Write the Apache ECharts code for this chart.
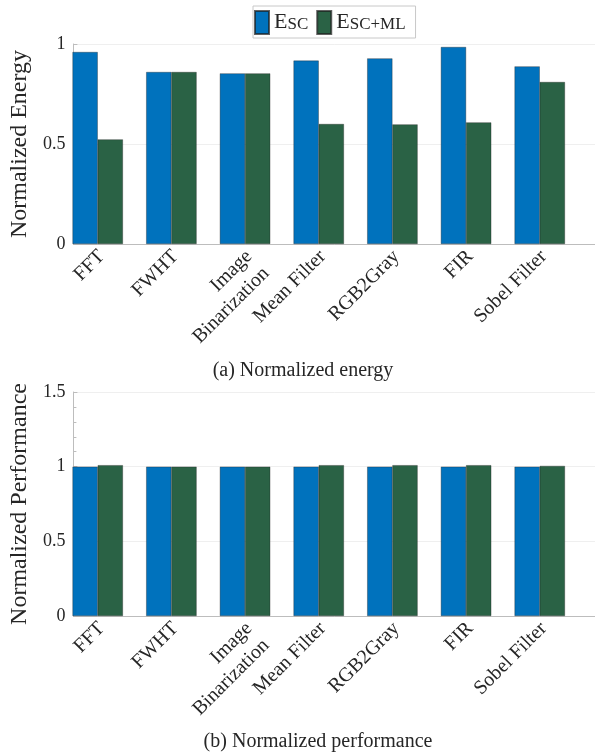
<!DOCTYPE html>
<html>
<head>
<meta charset="utf-8">
<script src="https://cdn.jsdelivr.net/npm/echarts@6/dist/echarts.min.js"></script>
<style>
  html, body { margin: 0; padding: 0; background: #fff; }
  #chart { width: 595px; height: 755px; }
</style>
</head>
<body>
<div id="chart"></div>
<script>
// Benchmarks shown on both panels
const categories = ['FFT', 'FWHT', 'Image\nBinarization', 'Mean Filter', 'RGB2Gray', 'FIR', 'Sobel Filter'];

// (a) normalized energy
const energySC   = [0.96, 0.86, 0.853, 0.917, 0.928, 0.985, 0.888];
const energySCML = [0.523, 0.86, 0.853, 0.60, 0.598, 0.608, 0.81];

// (b) normalized performance
const perfSC   = [1, 1, 1, 1, 1, 1, 1];
const perfSCML = [1.01, 1.0, 1.0, 1.01, 1.01, 1.01, 1.005];

// y-axis ticks
const energyTicks = [0, 0.5, 1];
const perfTicks = [0, 0.5, 1, 1.5];

const seriesNames = ['ESC', 'ESC+ML'];
const captions = ['(a) Normalized energy', '(b) Normalized performance'];

// ---- styling ----
const SERIF = '"Liberation Serif", "Times New Roman", serif';
const TEXT = '#262626';
const AXIS = '#bdbdbd';
const BLUE = '#0072BD';
const GREEN = '#2a6245';
const X_MIN = 0.67, X_MAX = 7.75;
const LABEL_SHIFT = -0.06;   // small nudge so rotated labels hang just under their group

const pos = i => i + 1;
const pairs = vals => vals.map((v, i) => [pos(i), v]);

function xAxisFor(gridIndex) {
  return {
    type: 'value', gridIndex, min: X_MIN, max: X_MAX,
    axisLine: { show: true, onZero: false, lineStyle: { color: AXIS, width: 1 } },
    axisTick: { show: false },
    splitLine: { show: false },
    axisLabel: {
      customValues: categories.map((_, i) => pos(i) + LABEL_SHIFT),
      formatter: v => categories[Math.round(v - LABEL_SHIFT) - 1],
      rotate: 45, align: 'right', verticalAlign: 'top', margin: 1,
      fontFamily: SERIF, fontSize: 20, lineHeight: 24, color: TEXT
    }
  };
}

function yAxisFor(gridIndex, ticks, name) {
  return {
    type: 'value', gridIndex,
    min: ticks[0], max: ticks[ticks.length - 1], interval: ticks[1] - ticks[0],
    name, nameLocation: 'middle', nameGap: 38,
    nameTextStyle: { fontFamily: SERIF, fontSize: 24, color: TEXT },
    axisLine: { show: true, lineStyle: { color: AXIS, width: 1 } },
    axisTick: { show: true, inside: true, length: 4, lineStyle: { color: AXIS } },
    minorTick: { show: true, splitNumber: 5, length: 3, lineStyle: { color: AXIS } },
    splitLine: { show: true, lineStyle: { color: '#efefef', width: 1 } },
    axisLabel: { margin: 8, fontFamily: SERIF, fontSize: 18, color: TEXT }
  };
}

function barSeries(name, color, data, gridIndex) {
  return {
    type: 'bar', name, xAxisIndex: gridIndex, yAxisIndex: gridIndex,
    data: pairs(data), barWidth: 25.2, barGap: '0%',
    itemStyle: { color, borderColor: 'rgba(30,30,30,0.7)', borderWidth: 0.5 }
  };
}

const chart = echarts.init(document.getElementById('chart'), null, { renderer: 'canvas' });

chart.setOption({
  animation: false,
  backgroundColor: '#fff',
  legend: {
    data: seriesNames,
    left: 253, top: 6,
    padding: [4, 10, 3, 1],
    itemWidth: 14, itemHeight: 23, itemGap: 8,
    borderColor: '#c8c8c8', borderWidth: 1,
    icon: 'rect',
    selectedMode: false,
    formatter: n => '{e|E}{s|' + n.slice(1) + '}',
    textStyle: {
      color: TEXT,
      rich: {
        e: { fontFamily: SERIF, fontSize: 22, lineHeight: 22, color: TEXT },
        s: { fontFamily: SERIF, fontSize: 17, lineHeight: 14, verticalAlign: 'bottom', color: TEXT }
      }
    }
  },
  grid: [
    { left: 68.3, top: 44, width: 535, height: 200 },
    { left: 68.3, top: 392, width: 535, height: 224 }
  ],
  xAxis: [xAxisFor(0), xAxisFor(1)],
  yAxis: [
    yAxisFor(0, energyTicks, 'Normalized Energy'),
    yAxisFor(1, perfTicks, 'Normalized Performance')
  ],
  series: [
    barSeries(seriesNames[0], BLUE, energySC, 0),
    barSeries(seriesNames[1], GREEN, energySCML, 0),
    barSeries(seriesNames[0], BLUE, perfSC, 1),
    barSeries(seriesNames[1], GREEN, perfSCML, 1)
  ],
  graphic: [
    { type: 'text', x: 303, y: 371,
      style: { text: captions[0], fill: TEXT, font: '20px ' + SERIF, textAlign: 'center', textVerticalAlign: 'middle' } },
    { type: 'text', x: 318, y: 742,
      style: { text: captions[1], fill: TEXT, font: '20px ' + SERIF, textAlign: 'center', textVerticalAlign: 'middle' } }
  ]
});
</script>
</body>
</html>
